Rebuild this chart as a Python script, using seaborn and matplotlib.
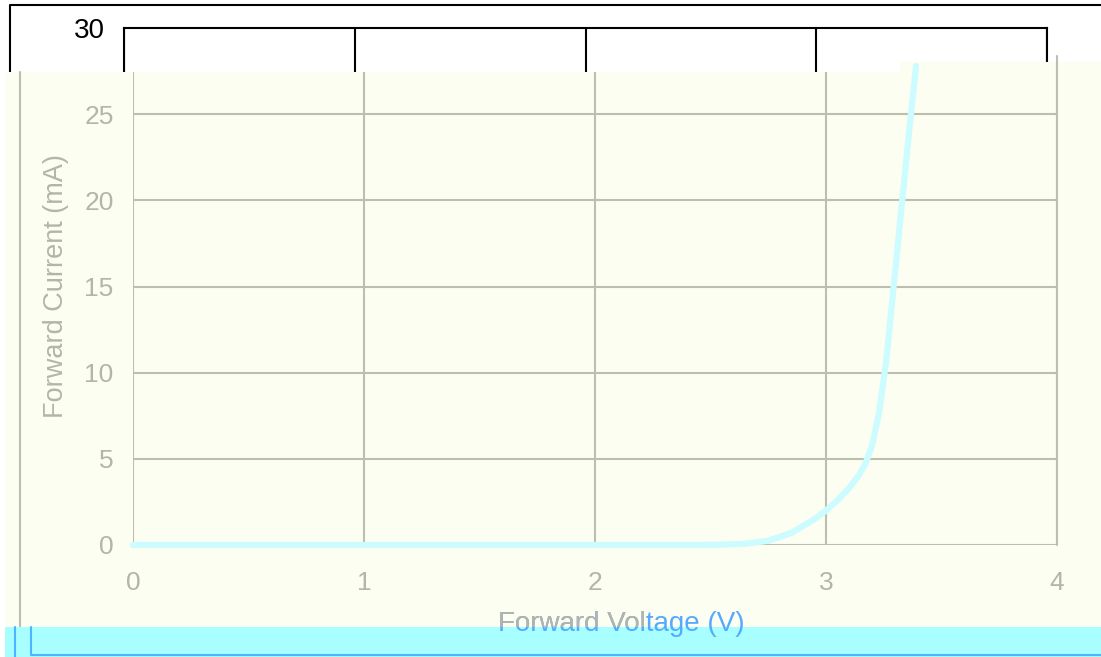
import numpy as np
import pandas as pd
import seaborn as sns
import matplotlib.pyplot as plt
from matplotlib.patches import Polygon, Rectangle
from matplotlib.lines import Line2D

# Data
voltage = [0, 1.0, 2.0, 2.45, 2.55, 2.65, 2.75, 2.85, 2.95, 3.0, 3.05, 3.1, 3.14,
           3.17, 3.2, 3.23, 3.26, 3.29, 3.33, 3.36, 3.39]
current = [0, 0, 0, 0, 0.02, 0.07, 0.25, 0.7, 1.5, 2.0, 2.6, 3.3, 4.0,
           4.7, 5.8, 7.7, 10.6, 14.6, 20.0, 24.0, 27.8]
x_ticks = [0, 1, 2, 3, 4]
y_ticks = [0, 5, 10, 15, 20, 25]
x_label = 'Forward Voltage (V)'
y_label = 'Forward Current (mA)'

df = pd.DataFrame({'voltage': voltage, 'current': current})

sns.set_style('white')
plt.rcParams['font.family'] = ['Liberation Sans', 'DejaVu Sans']

W, H = 1101, 657
fig = plt.figure(figsize=(W / 100, H / 100), dpi=100)
fig.patch.set_facecolor('white')


def fx(x):
    return x / W


def fy(y):
    return 1 - y / H


tick_col = '#b4b4a8'
grid_col = '#bdbdb0'
cream = '#fdfef2'

# outer black frame (top-left part visible)
fig.add_artist(Line2D([fx(10), fx(10), fx(1101)], [fy(75), fy(5), fy(5)],
                      color='black', lw=1.5, transform=fig.transFigure, zorder=1))

# ghost axes behind, shifted to the left
gax = fig.add_axes([fx(124), fy(545), (1047 - 124) / W, (545 - 28) / H], zorder=1)
gax.set_xlim(0, 4)
gax.set_ylim(0, 30)
gax.set_facecolor('white')
gax.set_xticks(x_ticks)
gax.set_yticks([30])
gax.set_xticklabels([])
gax.tick_params(axis='y', length=0, labelsize=20, pad=14, colors='black')
gax.tick_params(axis='x', length=0)
gax.grid(axis='x', color='black', lw=1.5)
for s in gax.spines.values():
    s.set_color('black')
    s.set_linewidth(1.5)

# cream background
cream_poly = Polygon([(fx(5), fy(72)), (fx(900), fy(72)), (fx(900), fy(62)),
                      (fx(1101), fy(62)), (fx(1101), fy(628)), (fx(5), fy(628))],
                     closed=True, transform=fig.transFigure, facecolor=cream,
                     edgecolor='none', zorder=2)
fig.add_artist(cream_poly)
fig.add_artist(Line2D([fx(20), fx(20)], [fy(72), fy(628)], color=grid_col, lw=1.5,
                      transform=fig.transFigure, zorder=3))

# main axes
ax = fig.add_axes([fx(133), fy(545), (1057 - 133) / W, (545 - 28) / H], zorder=3)
ax.set_facecolor('none')
ax.set_xlim(0, 4)
ax.set_ylim(0, 30)
ax.set_xticks(x_ticks)
ax.set_yticks(y_ticks)
ax.grid(True, color=grid_col, lw=1.5)
for s in ax.spines.values():
    s.set_visible(False)
ax.tick_params(length=0, labelsize=19, colors=tick_col)
ax.tick_params(axis='y', pad=14)
ax.tick_params(axis='x', pad=19)

sns.lineplot(data=df, x='voltage', y='current', ax=ax, color='#ccfcff', lw=4.5,
             sort=False, clip_on=False)
ax.set_xlabel('')
ax.set_ylabel(y_label, fontsize=19.5, color=tick_col, labelpad=11)

clip = Polygon(cream_poly.get_xy(), closed=True, transform=fig.transFigure)
for art in ax.get_xgridlines() + ax.get_ygridlines() + ax.lines:
    art.set_clip_path(clip)
ax.add_line(Line2D([4, 4], [0, 28.4], color=grid_col, lw=1.5, clip_on=False))

# cyan band at the bottom
fig.add_artist(Rectangle((fx(5), 0), fx(1101) - fx(5), fy(627), transform=fig.transFigure,
                         facecolor='#a8ffff', edgecolor='none', zorder=5))
blue = '#4db4ff'
fig.add_artist(Line2D([fx(15), fx(15)], [fy(627), 0], color=blue, lw=1.5,
                      transform=fig.transFigure, zorder=6))
fig.add_artist(Line2D([fx(31), fx(31), fx(1101)], [fy(627), fy(655), fy(655)], color=blue,
                      lw=1.5, transform=fig.transFigure, zorder=6))

# x label: grey above the band on the left, blue elsewhere
t1 = fig.text(fx(621), fy(631), x_label, ha='center', va='baseline', fontsize=20,
              color=tick_col, zorder=7)
t1.set_clip_path(Rectangle((0, fy(627)), fx(645), 1, transform=fig.transFigure))
t2 = fig.text(fx(621), fy(631), x_label, ha='center', va='baseline', fontsize=20,
              color='#55aaff', zorder=6)
t2.set_clip_path(Polygon([(0, 0), (1, 0), (1, 1), (fx(645), 1), (fx(645), fy(627)),
                          (0, fy(627))], closed=True, transform=fig.transFigure))

fig.savefig('out.png', dpi=100)
